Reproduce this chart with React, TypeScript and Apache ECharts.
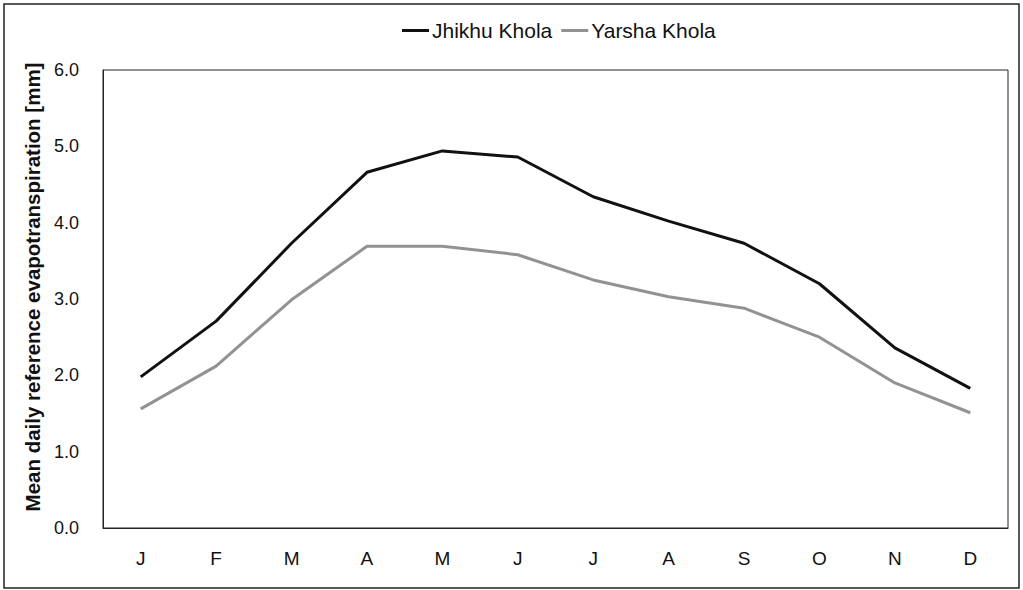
import React, { useEffect, useRef } from "react";
import * as echarts from "echarts";

const months = ["J", "F", "M", "A", "M", "J", "J", "A", "S", "O", "N", "D"];
const jhikhu = [1.98, 2.71, 3.73, 4.66, 4.94, 4.86, 4.34, 4.02, 3.73, 3.2, 2.36, 1.83];
const yarsha = [1.56, 2.12, 2.99, 3.69, 3.69, 3.58, 3.25, 3.03, 2.88, 2.5, 1.9, 1.51];
const yAxisTitle = "Mean daily reference evapotranspiration [mm]";

export default function App() {
  const ref = useRef<HTMLDivElement>(null);
  useEffect(() => {
    if (!ref.current) return;
    const chart = echarts.init(ref.current, null, { renderer: "svg" });
    const font = "Liberation Sans, Arial, Helvetica, sans-serif";
    chart.setOption({
      animation: false,
      backgroundColor: "#fff",
      textStyle: { fontFamily: font },
      graphic: [
        {
          type: "rect",
          shape: { x: 4, y: 4, width: 1015, height: 584 },
          style: { fill: "none", stroke: "#222", lineWidth: 1.5 },
          silent: true,
        },
      ],
      legend: {
        top: 15,
        left: 397,
        itemWidth: 27,
        itemHeight: 3,
        itemGap: 9,
        icon: "rect",
        textStyle: { fontSize: 21, color: "#111", fontFamily: font, padding: [0, 0, 0, -2] },
        data: ["Jhikhu Khola", "Yarsha Khola"],
      },
      grid: {
        left: 103,
        right: 15,
        top: 70,
        bottom: 62,
        show: true,
        borderColor: "#222",
        borderWidth: 1,
      },
      xAxis: {
        type: "category",
        data: months,
        boundaryGap: true,
        axisLine: { lineStyle: { color: "#222", width: 1 } },
        axisTick: { show: false },
        axisLabel: { fontSize: 19, color: "#111", margin: 21, fontFamily: font },
      },
      yAxis: {
        type: "value",
        min: 0,
        max: 6,
        interval: 1,
        name: yAxisTitle,
        nameLocation: "middle",
        nameGap: 55,
        nameTextStyle: {
          fontSize: 20.5,
          fontWeight: "bold",
          color: "#111",
          fontFamily: font,
          padding: [0, 0, 0, 24],
        },
        axisLine: { show: true, lineStyle: { color: "#222", width: 1 } },
        axisTick: { show: false },
        splitLine: { show: false },
        axisLabel: {
          fontSize: 18,
          color: "#111",
          margin: 24,
          fontFamily: font,
          formatter: (v: number) => v.toFixed(1),
        },
      },
      series: [
        {
          name: "Jhikhu Khola",
          type: "line",
          data: jhikhu,
          symbol: "none",
          itemStyle: { color: "#111" },
          lineStyle: { color: "#111", width: 3 },
        },
        {
          name: "Yarsha Khola",
          type: "line",
          data: yarsha,
          symbol: "none",
          itemStyle: { color: "#929292" },
          lineStyle: { color: "#929292", width: 3 },
        },
      ],
    });
    return () => chart.dispose();
  }, []);
  return (
    <div
      ref={ref}
      style={{ position: "fixed", left: 0, top: 0, width: 1023, height: 590, background: "#fff" }}
    />
  );
}
